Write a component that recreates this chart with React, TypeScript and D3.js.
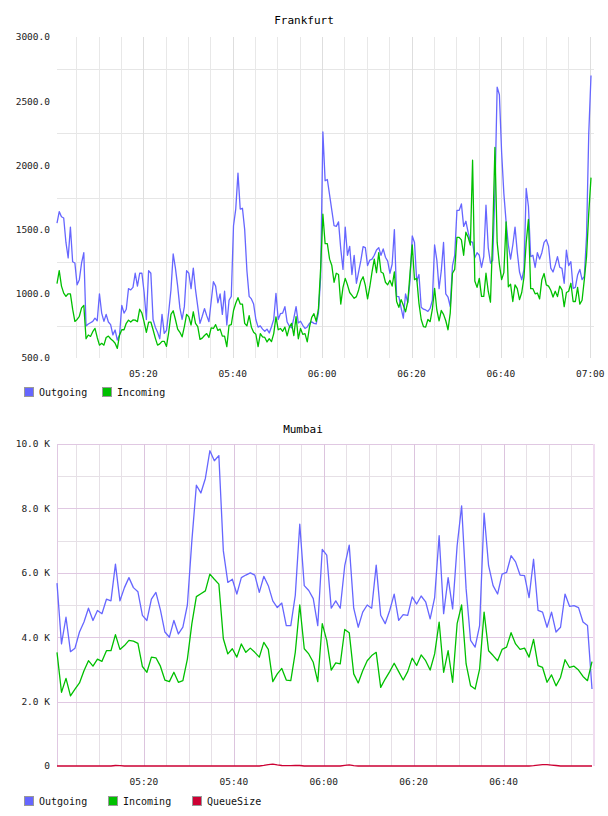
import React, { useEffect, useRef } from 'react'
import * as d3 from 'd3'

// Frankfurt: 30 second samples starting 05:00:40
const frankfurtStart = Date.UTC(2015, 2, 10, 5, 0, 40)
const frankfurtStepMs = 30 * 1000
const frankfurtOutgoing = [
  1550, 1640, 1600, 1590, 1400, 1280, 1520, 1250, 1240, 1070,
  1110, 1240, 1320, 750, 765, 775, 785, 810, 790, 1000,
  850, 785, 840, 780, 760, 680, 718, 640, 680, 910,
  850, 880, 1040, 1030, 1050, 1160, 1060, 1160, 1160, 1010,
  800, 1180, 1160, 800, 740, 700, 650, 840, 692, 715,
  860, 1030, 1310, 1200, 1060, 890, 800, 900, 1180, 1160,
  1040, 1200, 1030, 900, 770, 825, 885, 830, 783, 940,
  1094, 1060, 930, 1000, 840, 1020, 757, 950, 980, 1530,
  1660, 1940, 1660, 1666, 1500, 1180, 980, 960, 920, 800,
  740, 750, 725, 708, 725, 695, 744, 800, 1004, 800,
  845, 850, 900, 780, 748, 735, 810, 900, 773, 786,
  755, 730, 742, 770, 781, 770, 765, 850, 1130, 2260,
  1880, 1890, 1770, 1650, 1530, 1525, 1560, 1350, 1190, 1520,
  1300, 1370, 1150, 1300, 1082, 1170, 1260, 1367, 1360, 1220,
  1263, 1270, 1300, 1341, 1360, 1300, 1350, 1285, 1255, 1160,
  1230, 1500, 980, 978, 890, 810, 1000, 930, 1100, 1450,
  1400, 1100, 1150, 895, 880, 874, 863, 887, 950, 1380,
  1263, 1040, 1180, 1400, 1000, 975, 900, 1220, 1300, 1650,
  1650, 1700, 1525, 1565, 1480, 1408, 1400, 1280, 1320, 1300,
  1205, 1290, 1690, 1360, 1240, 1260, 1790, 2610, 2550, 2100,
  1780, 1560, 1380, 1270, 1380, 1520, 1325, 1170, 1108, 1190,
  1820, 1680, 1290, 1300, 1205, 1320, 1270, 1320, 1400, 1422,
  1370, 1200, 1170, 1225, 1289, 1207, 1198, 1082, 1340, 1220,
  1250, 1043, 1050, 1146, 1190, 1110, 1135, 1450, 2250, 2700,
]
const frankfurtIncoming = [
  1080, 1180, 1060, 1005, 980, 1000, 1000, 880, 785, 800,
  825, 890, 910, 650, 679, 668, 705, 731, 660, 600,
  614, 600, 660, 670, 650, 635, 615, 575, 680, 720,
  720, 770, 795, 780, 796, 795, 783, 880, 850, 780,
  700, 780, 780, 720, 655, 600, 610, 630, 630, 590,
  700, 840, 868, 800, 725, 700, 665, 744, 840, 820,
  757, 860, 770, 745, 645, 655, 675, 690, 660, 735,
  730, 760, 715, 725, 670, 670, 588, 755, 760, 870,
  926, 970, 920, 920, 770, 750, 830, 740, 700, 685,
  588, 690, 665, 660, 625, 650, 628, 690, 820, 720,
  730, 708, 740, 672, 740, 770, 675, 822, 650, 730,
  684, 690, 625, 740, 817, 845, 785, 880, 1200, 1620,
  1390, 1390, 1270, 1220, 1090, 1160, 1150, 920, 1050, 1120,
  1070, 1010, 987, 965, 978, 1030, 1100, 1133, 1065, 960,
  1055, 1170, 1270, 1165, 1320, 1170, 1160, 1090, 1070, 1105,
  1060, 1170, 940, 895, 955, 910, 860, 940, 1160, 1380,
  1110, 1120, 925, 800, 745, 740, 800, 783, 880, 1043,
  874, 790, 870, 840, 790, 720, 850, 1160, 1190, 1440,
  1440, 1420, 1300, 1480, 1440, 1380, 2040, 1100, 1050, 1120,
  980, 980, 1160, 1020, 935, 1450, 2140, 1400, 1230, 1110,
  1165, 1560, 1055, 1075, 940, 1070, 1040, 955, 1010, 1130,
  1400, 1580, 1040, 1040, 1000, 1006, 960, 1110, 1158, 1070,
  1060, 1028, 975, 1020, 978, 1060, 1030, 900, 1010, 1020,
  1082, 940, 940, 1050, 920, 950, 1108, 1289, 1630, 1905,
]
const frankfurtYTicks = [500, 1000, 1500, 2000, 2500, 3000]

// Mumbai: one sample per minute starting 05:00:40
const mumbaiStart = Date.UTC(2015, 2, 10, 5, 0, 40)
const mumbaiStepMs = 60 * 1000
const mumbaiOutgoing = [
  5680, 3790, 4620, 3550, 3660, 4160, 4470, 4900, 4520, 4830,
  4730, 5180, 5130, 6270, 5130, 5540, 5850, 5540, 5410, 4680,
  4520, 5180, 5390, 4850, 4160, 4000, 4520, 4100, 4310, 5000,
  7000, 8720, 8480, 8930, 9790, 9480, 9640, 6680, 5700, 5800,
  5340, 5850, 5930, 6000, 5930, 5390, 5890, 5600, 5130, 4920,
  5060, 4360, 4360, 5300, 7510, 5600, 5450, 5200, 4360, 6730,
  6550, 4900, 5130, 4900, 6220, 6860, 4900, 4310, 4780, 5000,
  4900, 6240, 4680, 4420, 4830, 5340, 4520, 4700, 4680, 5250,
  5030, 5280, 5100, 4570, 5230, 7150, 4730, 5850, 4880, 6840,
  8080, 5500, 3900, 3690, 4360, 7850, 6220, 5600, 5340, 5960,
  6010, 6530, 6340, 5930, 5910, 5230, 6420, 4830, 4780, 4310,
  4780, 4160, 4310, 5340, 4960, 4980, 4920, 4470, 4360, 2390,
]
const mumbaiIncoming = [
  3530, 2290, 2720, 2180, 2390, 2580, 2960, 3270, 3100, 3320,
  3250, 3580, 3580, 4080, 3620, 3740, 3900, 3880, 3810, 3090,
  2910, 3380, 3360, 3100, 2670, 2620, 2910, 2600, 2650, 3320,
  4420, 5260, 5350, 5440, 5960, 5800, 5650, 3950, 3480, 3640,
  3380, 3790, 3530, 3660, 3530, 3380, 3840, 3620, 2620, 2860,
  3030, 2670, 2650, 3530, 5000, 3640, 3480, 3220, 2620, 4420,
  3900, 2980, 3200, 3170, 4240, 4140, 2860, 2580, 2960, 3270,
  3430, 3530, 2440, 2700, 2930, 3190, 2930, 2670, 2930, 3350,
  3120, 3450, 3270, 2980, 3480, 4470, 2910, 3580, 2600, 4420,
  5000, 3170, 2490, 2390, 3010, 4780, 3580, 3430, 3270, 3620,
  3690, 4140, 3790, 3620, 3660, 3380, 3930, 3120, 3060, 2600,
  2830, 2490, 2750, 3300, 3060, 3100, 2980, 2780, 2650, 3240,
]
const mumbaiQueueSize = [
  0, 0, 0, 0, 0, 0, 0, 0, 0, 0,
  0, 0, 0, 15, 10, 0, 0, 0, 0, 0,
  0, 0, 0, 0, 0, 0, 0, 0, 0, 0,
  0, 0, 0, 0, 0, 0, 0, 0, 0, 0,
  0, 0, 0, 0, 0, 0, 20, 45, 60, 35,
  15, 10, 10, 20, 15, 0, 0, 0, 0, 0,
  0, 0, 0, 0, 20, 35, 10, 0, 0, 0,
  0, 0, 0, 0, 0, 0, 0, 0, 0, 0,
  0, 0, 0, 0, 0, 0, 0, 0, 0, 0,
  0, 0, 0, 0, 0, 0, 0, 0, 0, 0,
  0, 0, 0, 0, 0, 0, 10, 25, 40, 45,
  30, 15, 0, 0, 0, 0, 0, 0, 0, 0,
]
const mumbaiYTicks = [0, 2000, 4000, 6000, 8000, 10000]

const OUT_COLOR = '#6666ff'
const IN_COLOR = '#00c000'
const QUEUE_COLOR = '#cc0033'
const MONO = '"DejaVu Sans Mono", monospace'

type Series = { name: string, values: number[], color: string }

function toPoints(start: number, step: number, values: number[]) {
  return values.map((v, i) => ({ t: new Date(start + i * step), v }))
}

function drawLines(g: any, x: any, y: any, start: number, step: number, series: Series[]) {
  const line = d3.line<any>()
    .x(d => x(d.t))
    .y(d => y(d.v))
  series.forEach(s => {
    g.append('path')
      .datum(toPoints(start, step, s.values))
      .attr('fill', 'none')
      .attr('stroke', s.color)
      .attr('stroke-width', 1.3)
      .attr('stroke-linejoin', 'round')
      .attr('d', line)
  })
}

function drawLegend(g: any, top: number, series: Series[], spacing: number) {
  series.forEach((s, i) => {
    const lx = 24 + i * spacing
    g.append('rect')
      .attr('x', lx + 0.5).attr('y', top + 0.5)
      .attr('width', 9).attr('height', 9)
      .attr('fill', s.color)
      .attr('stroke', '#999')
    g.append('text')
      .attr('x', lx + 15).attr('y', top + 9)
      .attr('font-family', MONO).attr('font-size', 10)
      .attr('fill', '#111')
      .text(s.name)
  })
}

function drawFrankfurt(svg: any) {
  const left = 57, right = 591, top = 37, bottom = 358
  const end = frankfurtStart + (frankfurtOutgoing.length - 1) * frankfurtStepMs
  const x = d3.scaleUtc().domain([new Date(frankfurtStart), new Date(end)]).range([left, right])
  const y = d3.scaleLinear().domain([500, 3000]).range([bottom, top])
  const g = svg.append('g')

  g.append('text')
    .attr('x', 304).attr('y', 24)
    .attr('text-anchor', 'middle')
    .attr('font-family', MONO).attr('font-size', 11)
    .text('Frankfurt')

  // grid: horizontal lines sit halfway between the labelled values
  const mids = d3.range(750, 3000, 500)
  g.selectAll('.hgrid').data(mids).enter().append('line')
    .attr('x1', left).attr('x2', 594)
    .attr('y1', d => Math.round(y(d)) + 0.5).attr('y2', d => Math.round(y(d)) + 0.5)
    .attr('stroke', '#e6e6e6')

  const minor = d3.utcMinute.every(5)!.range(x.domain()[0], new Date(end + 1))
  g.selectAll('.vgrid').data(minor).enter().append('line')
    .attr('x1', d => Math.round(x(d)) + 0.5).attr('x2', d => Math.round(x(d)) + 0.5)
    .attr('y1', top).attr('y2', bottom)
    .attr('stroke', d => d.getUTCMinutes() % 20 === 0 ? '#dedede' : '#e8e8e8')

  g.selectAll('.ylab').data(frankfurtYTicks).enter().append('text')
    .attr('x', 50).attr('y', d => y(d))
    .attr('dy', '0.35em')
    .attr('text-anchor', 'end')
    .attr('font-family', MONO).attr('font-size', 9.5)
    .attr('fill', '#222')
    .text(d => d3.format('.1f')(d))

  const major = d3.utcMinute.every(20)!.range(x.domain()[0], new Date(end + 1))
  g.selectAll('.xlab').data(major).enter().append('text')
    .attr('x', d => x(d)).attr('y', 377)
    .attr('text-anchor', 'middle')
    .attr('font-family', MONO).attr('font-size', 9.5)
    .attr('fill', '#222')
    .text(d => d3.utcFormat('%H:%M')(d))

  const series: Series[] = [
    { name: 'Outgoing', values: frankfurtOutgoing, color: OUT_COLOR },
    { name: 'Incoming', values: frankfurtIncoming, color: IN_COLOR },
  ]
  drawLines(g, x, y, frankfurtStart, frankfurtStepMs, series)
  drawLegend(g, 387, series, 78)
}

function drawMumbai(svg: any) {
  const left = 57, right = 592, top = 444, bottom = 766
  const end = mumbaiStart + (mumbaiOutgoing.length - 1) * mumbaiStepMs
  const x = d3.scaleUtc().domain([new Date(mumbaiStart), new Date(end)]).range([left, right])
  const y = d3.scaleLinear().domain([0, 10000]).range([bottom, top])
  const g = svg.append('g')

  g.append('text')
    .attr('x', 303).attr('y', 433)
    .attr('text-anchor', 'middle')
    .attr('font-family', MONO).attr('font-size', 11)
    .text('Mumbai')

  const minorY = d3.range(1000, 10000, 2000)
  g.selectAll('.hminor').data(minorY).enter().append('line')
    .attr('x1', left).attr('x2', right + 1)
    .attr('y1', d => Math.round(y(d)) + 0.5).attr('y2', d => Math.round(y(d)) + 0.5)
    .attr('stroke', '#e6e0e6')

  const minor = d3.utcMinute.every(5)!.range(x.domain()[0], new Date(end + 1))
  g.selectAll('.vminor').data(minor.filter(d => d.getUTCMinutes() % 20 !== 0)).enter().append('line')
    .attr('x1', d => Math.round(x(d)) + 0.5).attr('x2', d => Math.round(x(d)) + 0.5)
    .attr('y1', top).attr('y2', bottom)
    .attr('stroke', '#e6e0e6')

  const majorY = mumbaiYTicks.filter(d => d > 0)
  g.selectAll('.hmajor').data(majorY).enter().append('line')
    .attr('x1', left).attr('x2', right + 1)
    .attr('y1', d => Math.round(y(d)) + 0.5).attr('y2', d => Math.round(y(d)) + 0.5)
    .attr('stroke', '#e0c8e2')

  const major = d3.utcMinute.every(20)!.range(x.domain()[0], new Date(end + 1))
  g.selectAll('.vmajor').data(major).enter().append('line')
    .attr('x1', d => Math.round(x(d)) + 0.5).attr('x2', d => Math.round(x(d)) + 0.5)
    .attr('y1', top).attr('y2', bottom)
    .attr('stroke', '#dcc4de')

  // frame
  g.append('line').attr('x1', left + 0.5).attr('x2', left + 0.5).attr('y1', top).attr('y2', bottom)
    .attr('stroke', '#e0c8e2')
  g.append('line').attr('x1', right + 2).attr('x2', right + 2).attr('y1', top).attr('y2', bottom)
    .attr('stroke', '#f0dcf0').attr('stroke-width', 2)

  g.selectAll('.ylab').data(mumbaiYTicks).enter().append('text')
    .attr('x', 50).attr('y', d => y(d))
    .attr('dy', '0.35em')
    .attr('text-anchor', 'end')
    .attr('font-family', MONO).attr('font-size', 9.5)
    .attr('fill', '#222')
    .text(d => d === 0 ? '0' : d3.format('.1f')(d / 1000) + ' K')

  g.selectAll('.xlab').data(major).enter().append('text')
    .attr('x', d => x(d)).attr('y', 785)
    .attr('text-anchor', 'middle')
    .attr('font-family', MONO).attr('font-size', 9.5)
    .attr('fill', '#222')
    .text(d => d3.utcFormat('%H:%M')(d))

  const series: Series[] = [
    { name: 'Outgoing', values: mumbaiOutgoing, color: OUT_COLOR },
    { name: 'Incoming', values: mumbaiIncoming, color: IN_COLOR },
    { name: 'QueueSize', values: mumbaiQueueSize, color: QUEUE_COLOR },
  ]
  drawLines(g, x, y, mumbaiStart, mumbaiStepMs, series)
  drawLegend(g, 796, series, 84)
}

export default function App() {
  const ref = useRef<SVGSVGElement>(null)

  useEffect(() => {
    const svg = d3.select(ref.current)
    svg.selectAll('*').remove()
    drawFrankfurt(svg)
    drawMumbai(svg)
  }, [])

  return (
    <svg
      ref={ref}
      width={608}
      height={816}
      style={{ position: 'absolute', left: 0, top: 0, background: '#fff' }}
    />
  )
}
